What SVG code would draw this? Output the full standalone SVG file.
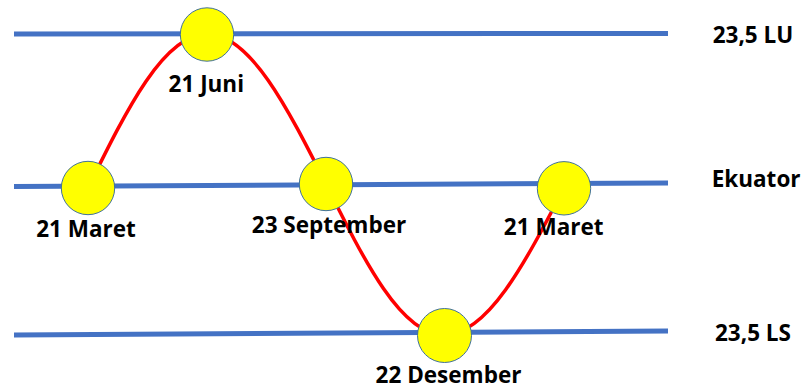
<svg xmlns="http://www.w3.org/2000/svg" width="801" height="389" viewBox="0 0 801 389">
<style>
.lat{stroke:#4472C4;stroke-width:5;fill:none}
.path{stroke:#FF0000;stroke-width:3.5;fill:none}
.sun{fill:#FFFF00;stroke:#41719C;stroke-width:1}
text{font-family:"Open Sans","Liberation Sans",sans-serif;font-weight:bold;font-size:22.5px;fill:#000}
.c{text-anchor:middle}
</style>
<rect width="801" height="389" fill="#fff"/>
<g id="latitudes">
<line class="lat" x1="14" y1="34" x2="668" y2="33.5"/>
<line class="lat" x1="14" y1="186.5" x2="668" y2="183"/>
<line class="lat" x1="14" y1="335" x2="668" y2="331"/>
</g>
<g id="connectors">
<path class="path" d="M88,188 C126.8,109.2 163.9,34 207,34 C250.1,34 287.2,107.2 326,184 C364.5,261.3 401.3,335 444,335 C487.4,335 524.9,263.3 564,188"/>
</g>
<g id="sun-juni"><circle class="sun" cx="207" cy="34.5" r="26.7"/><text class="c" x="206.3" y="92">21 Juni</text></g>
<g id="sun-maret1"><circle class="sun" cx="88" cy="188" r="26.7"/><text class="c" x="86" y="236.5">21 Maret</text></g>
<g id="sun-september"><circle class="sun" cx="326" cy="184" r="26.7"/><text class="c" x="329" y="233">23 September</text></g>
<g id="sun-maret2"><circle class="sun" cx="564" cy="188.3" r="26.7"/><text class="c" x="553.7" y="235">21 Maret</text></g>
<g id="sun-desember"><circle class="sun" cx="444.5" cy="335.5" r="27"/><text class="c" x="448.5" y="383">22 Desember</text></g>
<g id="label-lu"><text x="712.7" y="43">23,5 LU</text></g>
<g id="label-ekuator"><text x="711.7" y="186.5">Ekuator</text></g>
<g id="label-ls"><text x="715" y="341">23,5 LS</text></g>
</svg>
